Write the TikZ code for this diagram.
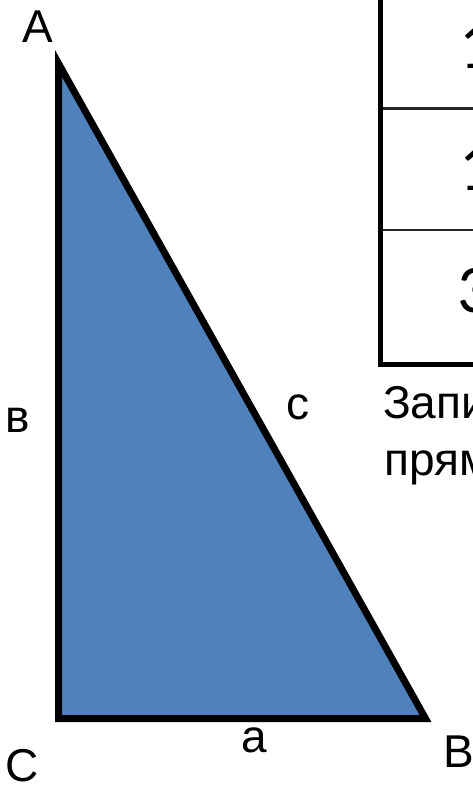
\documentclass[tikz,border=0pt]{standalone}
\usepackage{fontspec}
\setmainfont{Liberation Sans}
\newfontfamily\digitfont{Carlito}
\usetikzlibrary{positioning}
\definecolor{sideblue}{HTML}{4F81BD}
\tikzset {
  every node/.style={font=\fontsize{46}{55}\selectfont, inner sep=0pt},
  tri/.style={line width=7pt, line join=miter, fill=sideblue},
  thickrule/.style={line width=5pt, line join=miter},
  thinrule/.style={line width=2.5pt, draw=black!85},
  digit/.style={font=\digitfont\fontsize{68}{72}\selectfont, anchor=base west},
  lbl/.style={anchor=base west},
}

\begin{document}
\begin{tikzpicture}[x=1pt,y=-1pt]
  \clip (0,0) rectangle (473,785);

  % triangle
  \coordinate (A) at (58.5,63.5);
  \coordinate (C) at (58.5,718.5);
  \coordinate (B) at (425.5,718.5);
  \draw[tri] (A) -- (B) -- (C) -- cycle;

  \node[lbl] (lA) at (22,42) {A};
  \node[lbl] (lB) at (443,767) {B};
  \node[lbl] (lC) at (5,781) {C};
  \node[lbl] (la) at (241,752) {a};
  \node[lbl] (lb) at (5,432) {в};
  \node[lbl] (lc) at (286,419) {c};

  % table on the right
  \draw[thickrule] (380.5,-5) -- (380.5,364) -- (480,364);
  \draw[thinrule] (383,108.7) -- (480,108.7);
  \draw[thinrule] (383,230) -- (480,230);
  \node[digit] (r1) at (459.5,68) {1};
  \node[digit] (r2) at (459.5,190) {1};
  \node[digit] (r3) at (457.5,312) {3};

  \node[lbl] (t1) at (383,418) {Запи};
  \node[lbl] (t2) at (384,475) {прям};
\end{tikzpicture}
\end{document}
